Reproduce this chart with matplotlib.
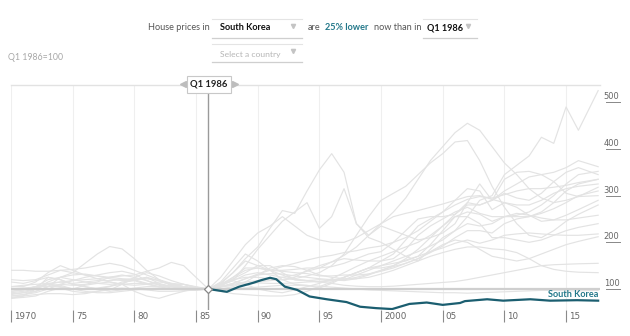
import matplotlib.pyplot as plt
import numpy as np
from matplotlib.lines import Line2D
from matplotlib.patches import Rectangle
import matplotlib.transforms as mtransforms

# ---- data -------------------------------------------------------------
# yearly grid, last point is the latest quarter (Q3 2017)
YEARS = np.append(np.arange(1970, 2017), 2017.6)
N = None

# other countries, Q1 1986 = 100 (drawn in light grey)
GREY_SERIES = [
    [N] * 16 + [100, 112, 135, 165, 190, 230, 268, 262, 310, 355,
                390, 350, 240, 210, 200, 185, 170, 160, 185, 210,
                225, 255, 290, 300, 345, 365, 385, 425, 412, 490, 440, 525],
    [N] * 16 + [100, 108, 118, 150, 185, 215, 245, 265, 285, 230,
                255, 315, 240, 215, 235, 225, 215, 205, 210, 220,
                240, 285, 325, 290, 335, 350, 352, 345, 330, 305, 298, 300],
    [120, 118, 120, 130, 140, 142, 145, 150, 155, 150, 140, 130, 120, 112, 105, 100,
     100, 125, 160, 195, 220, 235, 255, 235, 215, 205,
     200, 200, 210, 225, 240, 265, 295, 335, 375, 405,
     435, 455, 440, 405, 370, 345, 315, 295, 285, 290, 298, 318],
    [85, 88, 95, 105, 110, 108, 110, 115, 125, 130, 125, 118, 110, 105, 102, 100,
     100, 100, 102, 108, 115, 118, 120, 122, 128, 135,
     150, 175, 215, 255, 290, 305, 320, 345, 370, 390,
     415, 418, 375, 320, 275, 240, 215, 210, 225, 245, 260, 280],
    [80, 85, 100, 125, 120, 110, 105, 100, 105, 115, 118, 110, 105, 105, 105, 100,
     100, 112, 135, 160, 150, 140, 130, 120, 118, 115,
     118, 125, 135, 145, 160, 175, 205, 235, 250, 265,
     290, 315, 310, 270, 285, 280, 280, 290, 305, 315, 320, 325],
    [95, 98, 105, 120, 125, 120, 115, 112, 110, 112, 120, 125, 118, 108, 105, 102,
     100, 105, 125, 145, 145, 140, 140, 142, 145, 145,
     148, 155, 165, 175, 180, 200, 225, 250, 255, 255,
     260, 280, 280, 290, 305, 295, 290, 305, 330, 350, 360, 345],
    [105, 105, 115, 135, 150, 140, 130, 122, 115, 110, 108, 110, 115, 112, 110, 104,
     100, 110, 120, 125, 125, 122, 120, 125, 140, 150,
     158, 165, 162, 160, 160, 165, 185, 215, 235, 250,
     265, 275, 262, 255, 255, 258, 265, 280, 300, 325, 345, 352],
    [90, 92, 95, 105, 125, 130, 132, 128, 122, 118, 118, 125, 112, 105, 100, 100,
     100, 110, 125, 140, 145, 140, 138, 135, 133, 128,
     128, 130, 130, 132, 138, 145, 155, 165, 178, 192,
     210, 225, 225, 220, 240, 250, 255, 262, 272, 285, 300, 310],
    [82, 85, 88, 90, 90, 88, 90, 95, 100, 102, 100, 98, 95, 95, 96, 98,
     100, 104, 108, 112, 113, 112, 112, 113, 115, 116,
     118, 120, 125, 132, 140, 148, 155, 165, 180, 195,
     205, 200, 185, 170, 165, 160, 165, 175, 185, 195, 202, 212],
    [100, 100, 105, 110, 115, 112, 115, 118, 118, 120, 122, 122, 118, 110, 105, 102,
     100, 105, 112, 122, 130, 133, 132, 128, 125, 122,
     120, 118, 122, 130, 140, 150, 165, 185, 210, 235,
     255, 265, 260, 245, 255, 262, 258, 252, 248, 248, 252, 258],
    [88, 92, 100, 115, 125, 135, 155, 175, 191, 186, 165, 140, 120, 108, 102, 100,
     100, 105, 110, 115, 118, 120, 125, 130, 138, 145,
     158, 172, 190, 215, 240, 255, 262, 268, 275, 282,
     290, 298, 300, 292, 285, 275, 258, 245, 248, 258, 270, 290],
    [105, 108, 110, 112, 115, 118, 120, 122, 125, 128, 130, 138, 145, 157, 150, 125,
     100, 112, 118, 110, 100, 95, 92, 98, 105, 112,
     122, 135, 148, 160, 170, 180, 190, 200, 215, 235,
     260, 285, 280, 290, 310, 325, 340, 345, 350, 360, 375, 362],
    [140, 140, 138, 138, 140, 135, 130, 128, 125, 122, 120, 112, 105, 100, 98, 97,
     100, 110, 122, 135, 150, 150, 135, 120, 118, 120,
     118, 120, 130, 140, 150, 160, 170, 180, 192, 205,
     225, 240, 235, 240, 255, 255, 255, 265, 285, 310, 325, 335],
    [92, 95, 100, 110, 105, 100, 108, 112, 115, 110, 95, 85, 80, 88, 95, 102,
     100, 95, 90, 88, 86, 85, 85, 88, 95, 105,
     115, 125, 135, 145, 150, 155, 160, 170, 195, 225,
     255, 255, 240, 210, 210, 205, 200, 205, 215, 225, 232, 240],
    [80, 82, 85, 95, 102, 95, 92, 95, 98, 110, 125, 135, 128, 118, 110, 102,
     100, 100, 105, 115, 130, 145, 150, 148, 140, 130,
     125, 122, 122, 125, 132, 140, 150, 160, 170, 178,
     185, 190, 190, 186, 184, 178, 165, 150, 142, 138, 136, 135],
    [100, 102, 104, 106, 104, 100, 100, 102, 106, 110, 112, 112, 110, 106, 104, 101,
     100, 100, 101, 102, 104, 106, 108, 108, 107, 106,
     104, 102, 100, 98, 97, 96, 95, 94, 93, 92,
     92, 91, 92, 93, 94, 95, 96, 97, 97, 96, 96, 97],
    [95, 98, 105, 110, 108, 100, 95, 92, 92, 95, 98, 100, 102, 100, 100, 100,
     100, 108, 118, 130, 135, 130, 125, 120, 118, 115,
     112, 108, 106, 105, 105, 106, 108, 110, 112, 114,
     116, 120, 125, 130, 135, 140, 145, 150, 152, 153, 154, 155],
    [85, 88, 92, 100, 110, 118, 125, 130, 135, 138, 132, 118, 108, 102, 100, 100,
     100, 105, 112, 122, 132, 140, 148, 155, 162, 168,
     172, 178, 182, 188, 192, 200, 210, 225, 245, 265,
     280, 292, 298, 295, 302, 310, 315, 315, 318, 322, 328, 335],
    [115, 112, 118, 125, 120, 110, 105, 100, 95, 98, 102, 105, 105, 108, 110, 105,
     100, 115, 145, 175, 160, 140, 120, 110, 108, 102,
     112, 125, 135, 145, 145, 150, 162, 170, 180, 188,
     198, 205, 198, 205, 215, 218, 220, 218, 216, 215, 215, 218],
]

# South Korea, Q1 1986 = 100
SK_YEARS = [1986.0, 1986.5, 1987.5, 1988.5, 1989.6, 1990.3, 1991.0, 1991.5,
            1992.2, 1993.2, 1994.2, 1995.6, 1997.2, 1998.3, 1999.6, 2000.9,
            2002.3, 2003.7, 2005.0, 2006.4, 2006.8, 2008.6, 2009.9, 2012.1,
            2013.7, 2015.9, 2017.6]
SK_VALUES = [100, 98, 94, 105, 113, 119, 124, 121,
             105, 98, 84, 78, 72, 62, 59, 57,
             68, 71, 66, 70, 74, 78, 75, 78,
             75, 76, 75]

TICK_YEARS = [1970, 1975, 1980, 1985, 1990, 1995, 2000, 2005, 2010, 2015]
TICK_LABELS = ["1970", "75", "80", "85", "90", "95", "2000", "05", "10", "15"]
Y_TICKS = [100, 200, 300, 400, 500]
BASE_YEAR = 1986

TEAL = "#1b5e70"
TEAL_TEXT = "#23788a"
NARROW = ["Liberation Sans Narrow", "DejaVu Sans"]
HEAD = ["Lato", "DejaVu Sans"]
HEAD_SIZE = 6.6

W, H = 630, 336


def fx(x):
    return x / W


def fy(y):
    return 1 - y / H


fig = plt.figure(figsize=(6.3, 3.36), dpi=100)
ax = fig.add_axes([fx(11), fy(310), 589 / W, 225 / H])

for vals in GREY_SERIES:
    v = np.array([np.nan if a is None else a for a in vals], dtype=float)
    ax.plot(YEARS, v, color="#e3e3e3", lw=0.85, zorder=2)

ax.axhline(100, color="#cfcfcf", lw=1.6, zorder=3)
ax.plot(SK_YEARS, SK_VALUES, color=TEAL, lw=1.6, zorder=5,
        solid_joinstyle="round")

for yr in TICK_YEARS:
    ax.axvline(yr, color="#efefef", lw=0.8, zorder=1)

ax.axvline(BASE_YEAR, ymin=0, ymax=0.964, color="#9a9a9a", lw=1.0, zorder=6)
ax.plot([BASE_YEAR], [100], marker="D", ms=4.5, mfc="white", mec="#888888",
        mew=0.9, zorder=7)

ax.set_xlim(1970, 2017.75)
ax.set_ylim(55, 537)
for s in ["left", "right", "bottom"]:
    ax.spines[s].set_visible(False)
ax.spines["top"].set_color("#e2e2e2")
ax.spines["top"].set_linewidth(1.0)
ax.set_yticks([])
ax.set_xticks(TICK_YEARS)
ax.tick_params(axis="x", length=8.5, width=0.8, color="#8a8a8a",
               labelbottom=False, direction="out")

tb = mtransforms.blended_transform_factory(ax.transData, ax.transAxes)
for yr, lab in zip(TICK_YEARS, TICK_LABELS):
    ax.text(yr + 0.25, -0.028, lab, transform=tb, ha="left", va="center",
            fontsize=6.3, color="#666666", family=NARROW)

tr = mtransforms.blended_transform_factory(ax.transAxes, ax.transData)
for v in Y_TICKS:
    ax.plot([1.0105, 1.034], [v, v], transform=tr, color="#888888", lw=0.7,
            clip_on=False)
    ax.text(1.033, v + 2, str(v), transform=tr, ha="right", va="bottom",
            fontsize=6.0, color="#666666", family=NARROW)

ax.text(2017.6, 89, "South Korea", ha="right", va="center", fontsize=6.6,
        fontweight="bold", color=TEAL_TEXT, zorder=8, family=HEAD)

# base-period label above the vertical line
fig.add_artist(Rectangle((fx(187), fy(93)), 44 / W, 17 / H, facecolor="white",
                         edgecolor="#c8c8c8", lw=0.8, zorder=10))
fig.text(fx(209), fy(84.5), "Q1 1986", ha="center", va="center", fontsize=6.8,
         fontweight="bold", color="#222222", zorder=11, family=HEAD)
fig.add_artist(Line2D([fx(183)], [fy(84)], marker="<", ms=4, color="#bdbdbd",
                      lw=0))
fig.add_artist(Line2D([fx(235)], [fy(84)], marker=">", ms=4, color="#bdbdbd",
                      lw=0))

fig.text(fx(8), fy(57), "Q1 1986=100", ha="left", va="center", fontsize=6.3,
         color="#a8a8a8", family=HEAD)


# header sentence with drop-downs
def dropdown(x0, x1, y0, y1, caret_x):
    fig.add_artist(Line2D([fx(x0), fx(x1)], [fy(y0), fy(y0)], color="#e4e4e4",
                          lw=0.8))
    fig.add_artist(Line2D([fx(x0), fx(x1)], [fy(y1), fy(y1)], color="#cfcfcf",
                          lw=0.9))
    fig.add_artist(Line2D([fx(caret_x)], [fy((y0 + y1) / 2 - 2)], marker="v",
                          ms=3, color="#c4c4c4", lw=0))


dropdown(212, 302, 18.5, 37.5, 293)
dropdown(423, 477, 18.5, 37.5, 468)
dropdown(212, 302, 43.5, 62, 293)

fig.text(fx(148), fy(28), "House prices in", ha="left", va="center",
         fontsize=HEAD_SIZE, color="#555555", family=HEAD)
fig.text(fx(220), fy(28), "South Korea", ha="left", va="center",
         fontsize=HEAD_SIZE, color="#111111", fontweight="bold", family=HEAD)
fig.text(fx(308), fy(28), "are", ha="left", va="center",
         fontsize=HEAD_SIZE, color="#555555", family=HEAD)
fig.text(fx(325), fy(28), "25% lower", ha="left", va="center",
         fontsize=HEAD_SIZE, color=TEAL_TEXT, fontweight="bold", family=HEAD)
fig.text(fx(374), fy(28), "now than in", ha="left", va="center",
         fontsize=HEAD_SIZE, color="#555555", family=HEAD)
fig.text(fx(427), fy(28), "Q1 1986", ha="left", va="center",
         fontsize=HEAD_SIZE, color="#111111", fontweight="bold", family=HEAD)
fig.text(fx(220), fy(54), "Select a country", ha="left", va="center",
         fontsize=6.1, color="#b5b5b5", family=HEAD)

fig.savefig("out.png", dpi=100)
